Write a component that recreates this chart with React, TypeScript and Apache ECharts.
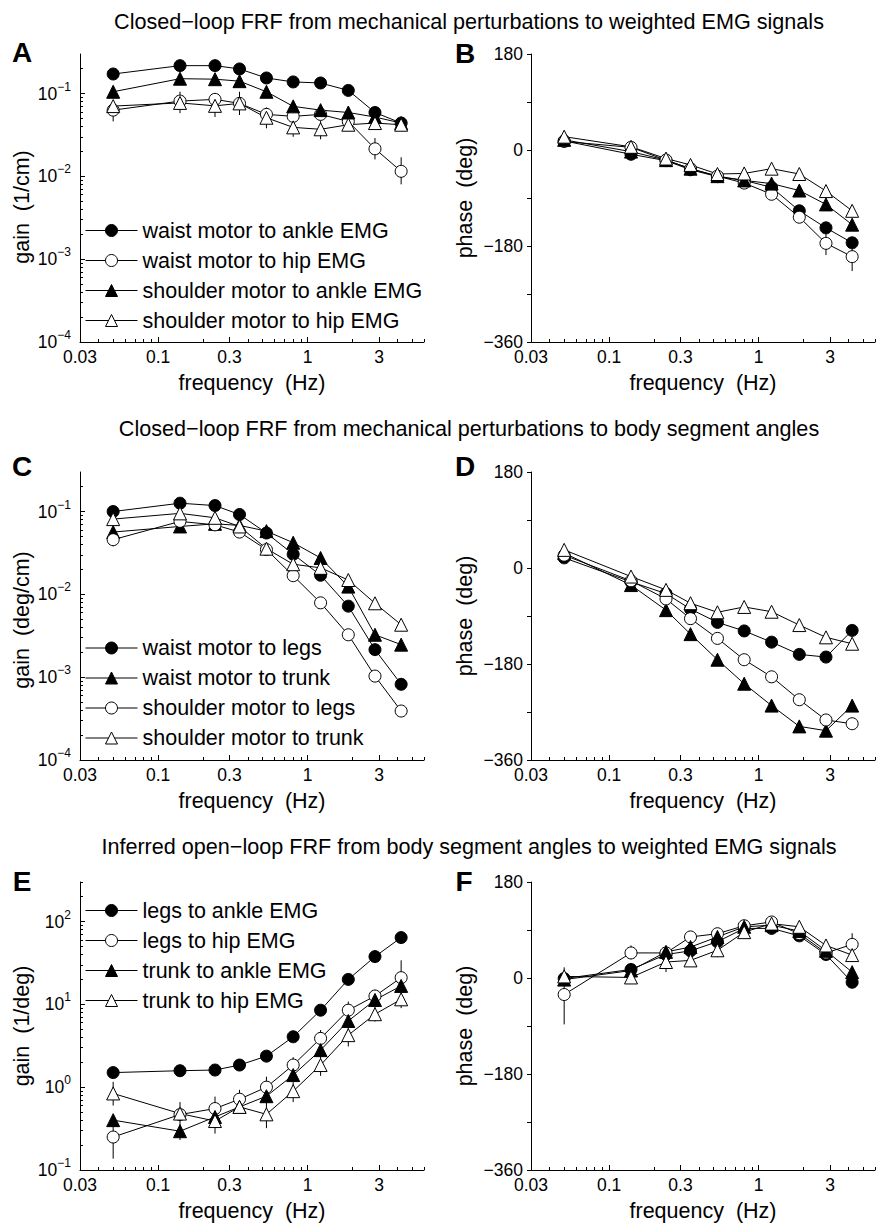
import React, { useEffect, useRef } from "react";
import * as echarts from "echarts";

// ---------------- data ----------------
const freq = [0.05, 0.14, 0.24, 0.35, 0.53, 0.8, 1.22, 1.87, 2.82, 4.22];

const xTickLabels = [0.03, 0.1, 0.3, 1, 3];
const xMinorTicks = [0.04, 0.05, 0.06, 0.07, 0.08, 0.09, 0.2, 0.4, 0.5, 0.6, 0.7, 0.8, 0.9, 2, 4, 5, 6];
const xRange = [0.03, 6];
const phaseRange = [-360, 180];

// Panel A: gain (1/cm)
const gainA_waistAnkle = [0.172, 0.217, 0.217, 0.198, 0.154, 0.138, 0.134, 0.109, 0.059, 0.044];
const gainA_waistHip = [0.063, 0.081, 0.085, 0.076, 0.056, 0.053, 0.056, 0.046, 0.0215, 0.0115];
const gainA_shoulderAnkle = [0.105, 0.151, 0.149, 0.141, 0.105, 0.07, 0.063, 0.059, 0.052, 0.044];
const gainA_shoulderHip = [0.0705, 0.077, 0.071, 0.076, 0.051, 0.039, 0.037, 0.042, 0.044, 0.042];
const errA_waistHip = [[0.046, 0.08], null, null, null, null, null, null, null, [0.016, 0.029], [0.008, 0.017]];
const errA_shoulderHip = [null, [0.058, 0.105], [0.052, 0.1], [0.055, 0.105], [0.038, 0.068], [0.03, 0.05], [0.028, 0.047], null, null, null];

// Panel B: phase (deg)
const phaseB_waistAnkle = [17, -8, -20, -37, -50, -57, -70, -114, -146, -174];
const phaseB_waistHip = [16, 5, -19, -35, -49, -62, -83, -126, -175, -200];
const phaseB_shoulderAnkle = [19, -3, -19, -35, -49, -57, -63, -76, -102, -140];
const phaseB_shoulderHip = [25, 6, -16, -28, -45, -44, -35, -45, -77, -114];
const errB_waistHip = [null, null, null, null, null, null, null, [-137, -115], [-197, -155], [-227, -175]];

// Panel C: gain (deg/cm)
const gainC_waistLegs = [0.1, 0.126, 0.118, 0.092, 0.055, 0.0305, 0.017, 0.0072, 0.00215, 0.00082];
const gainC_waistTrunk = [0.0565, 0.066, 0.071, 0.068, 0.058, 0.042, 0.0275, 0.0124, 0.00325, 0.00247];
const gainC_shoulderLegs = [0.0457, 0.076, 0.069, 0.0565, 0.0347, 0.0168, 0.0079, 0.00325, 0.00103, 0.00039];
const gainC_shoulderTrunk = [0.081, 0.095, 0.084, 0.066, 0.0356, 0.0231, 0.0209, 0.0149, 0.0078, 0.0043];
const errC_shoulderLegs = [[0.038, 0.053], null, null, null, null, null, null, null, null, null];

// Panel D: phase (deg)
const phaseD_waistLegs = [19, -26, -48, -77, -102, -118, -139, -162, -167, -117];
const phaseD_waistTrunk = [28, -32, -79, -124, -172, -217, -258, -297, -305, -258];
const phaseD_shoulderLegs = [24, -24, -58, -95, -132, -172, -204, -247, -285, -292];
const phaseD_shoulderTrunk = [34, -16, -41, -66, -83, -73, -82, -107, -130, -142];

// Panel E: gain (1/deg)
const gainE_legsAnkle = [1.5, 1.58, 1.61, 1.85, 2.37, 4.06, 8.5, 20, 37.7, 64];
const gainE_legsHip = [0.25, 0.467, 0.552, 0.716, 1.0, 1.85, 3.88, 8.5, 12.6, 21];
const gainE_trunkAnkle = [0.4, 0.294, 0.437, 0.578, 0.778, 1.4, 2.8, 6.3, 11.3, 16.7];
const gainE_trunkHip = [0.84, 0.48, 0.39, 0.578, 0.47, 0.895, 1.85, 4.25, 7.6, 11.5];
const errE_legsHip = [[0.137, 0.45], null, [0.45, 0.77], [0.55, 0.93], [0.75, 1.34], [1.5, 2.3], [3.0, 4.9], [6.8, 10.8], [10.5, 15], [14, 34]];
const errE_trunkAnkle = [null, [0.23, 0.35], null, null, null, null, null, null, null, null];
const errE_trunkHip = [[0.6, 1.16], [0.34, 0.66], [0.275, 0.5], null, [0.32, 0.65], [0.66, 1.15], [1.37, 2.4], [3.1, 5.5], [6.2, 9.5], [9, 14]];

// Panel F: phase (deg)
const phaseF_legsAnkle = [-1, 16, 44, 51, 68, 93, 93, 79, 44, -8];
const phaseF_legsHip = [-31, 47, 47, 77, 83, 98, 105, 83, 47, 63];
const phaseF_trunkAnkle = [-3, 14, 49, 58, 77, 96, 99, 88, 51, 11];
const phaseF_trunkHip = [3, 1, 30, 33, 52, 86, 102, 96, 61, 43];
const errF_legsHip = [[-87, 20], [35, 61], null, null, null, null, null, null, null, [45, 84]];
const errF_trunkHip = [null, null, [11, 45], null, [39, 65], null, null, null, null, null];

const gainRangeAC = [1e-4, 0.3];
const gainRangeE = [0.1, 300];

const titles = [
  "Closed\u2212loop FRF from mechanical perturbations to weighted EMG signals",
  "Closed\u2212loop FRF from mechanical perturbations to body segment angles",
  "Inferred open\u2212loop FRF from body segment angles to weighted EMG signals",
];

// ---------------- layout / style ----------------
const FONT = "'Liberation Sans', Arial, Helvetica, sans-serif";
const W = 344;
const H = 288;
const L = (v: number) => Math.log10(v);

type Spec = { name: string; vals: number[]; sym: string; filled: boolean; err?: any[] };

const namesA = ["waist motor to ankle EMG", "waist motor to hip EMG", "shoulder motor to ankle EMG", "shoulder motor to hip EMG"];
const namesC = ["waist motor to legs", "waist motor to trunk", "shoulder motor to legs", "shoulder motor to trunk"];
const namesE = ["legs to ankle EMG", "legs to hip EMG", "trunk to ankle EMG", "trunk to hip EMG"];

const specsA: Spec[] = [
  { name: namesA[0], vals: gainA_waistAnkle, sym: "circle", filled: true },
  { name: namesA[1], vals: gainA_waistHip, sym: "circle", filled: false, err: errA_waistHip },
  { name: namesA[2], vals: gainA_shoulderAnkle, sym: "triangle", filled: true },
  { name: namesA[3], vals: gainA_shoulderHip, sym: "triangle", filled: false, err: errA_shoulderHip },
];
const specsB: Spec[] = [
  { name: namesA[0], vals: phaseB_waistAnkle, sym: "circle", filled: true },
  { name: namesA[1], vals: phaseB_waistHip, sym: "circle", filled: false, err: errB_waistHip },
  { name: namesA[2], vals: phaseB_shoulderAnkle, sym: "triangle", filled: true },
  { name: namesA[3], vals: phaseB_shoulderHip, sym: "triangle", filled: false },
];
const specsC: Spec[] = [
  { name: namesC[0], vals: gainC_waistLegs, sym: "circle", filled: true },
  { name: namesC[1], vals: gainC_waistTrunk, sym: "triangle", filled: true },
  { name: namesC[2], vals: gainC_shoulderLegs, sym: "circle", filled: false, err: errC_shoulderLegs },
  { name: namesC[3], vals: gainC_shoulderTrunk, sym: "triangle", filled: false },
];
const specsD: Spec[] = [
  { name: namesC[0], vals: phaseD_waistLegs, sym: "circle", filled: true },
  { name: namesC[1], vals: phaseD_waistTrunk, sym: "triangle", filled: true },
  { name: namesC[2], vals: phaseD_shoulderLegs, sym: "circle", filled: false },
  { name: namesC[3], vals: phaseD_shoulderTrunk, sym: "triangle", filled: false },
];
const specsE: Spec[] = [
  { name: namesE[0], vals: gainE_legsAnkle, sym: "circle", filled: true },
  { name: namesE[1], vals: gainE_legsHip, sym: "circle", filled: false, err: errE_legsHip },
  { name: namesE[2], vals: gainE_trunkAnkle, sym: "triangle", filled: true, err: errE_trunkAnkle },
  { name: namesE[3], vals: gainE_trunkHip, sym: "triangle", filled: false, err: errE_trunkHip },
];
const specsF: Spec[] = [
  { name: namesE[0], vals: phaseF_legsAnkle, sym: "circle", filled: true },
  { name: namesE[1], vals: phaseF_legsHip, sym: "circle", filled: false, err: errF_legsHip },
  { name: namesE[2], vals: phaseF_trunkAnkle, sym: "triangle", filled: true },
  { name: namesE[3], vals: phaseF_trunkHip, sym: "triangle", filled: false, err: errF_trunkHip },
];

const panels = [
  { left: 80, top: 54, kind: "gain", range: gainRangeAC, yName: "gain  (1/cm)", namePad: [0, 18, 0, 0], specs: specsA, letter: "A", lx: 22, ly: 52, legendTop: 214.5, legendNames: namesA },
  { left: 531, top: 54, kind: "phase", range: phaseRange, yName: "phase  (deg)", specs: specsB, letter: "B", lx: 465, ly: 53 },
  { left: 80, top: 472, kind: "gain", range: gainRangeAC, yName: "gain  (deg/cm)", namePad: [0, 8, 0, 0], specs: specsC, letter: "C", lx: 22, ly: 466, legendTop: 632, legendNames: namesC },
  { left: 531, top: 472, kind: "phase", range: phaseRange, yName: "phase  (deg)", specs: specsD, letter: "D", lx: 465, ly: 466 },
  { left: 80, top: 882, kind: "gain", range: gainRangeE, yName: "gain  (1/deg)", specs: specsE, letter: "E", lx: 22, ly: 881, legendTop: 894.5, legendNames: namesE },
  { left: 531, top: 882, kind: "phase", range: phaseRange, yName: "phase  (deg)", specs: specsF, letter: "F", lx: 464, ly: 881 },
];
const titleY = [21, 428, 846];

const axisLineStyle = { color: "#000", width: 1 };
const nameStyle = { fontSize: 21.5, fontFamily: FONT, color: "#000" };

function fmtX(v: number) {
  let best = xTickLabels[0];
  for (const t of xTickLabels) if (Math.abs(L(t) - v) < Math.abs(L(best) - v)) best = t;
  return String(best);
}
function fmtPow(v: number) {
  const e = Math.round(v);
  return `{b|10}{s|${e < 0 ? "\u2212" : ""}${Math.abs(e)}}`;
}
function fmtPhase(v: number) {
  if (Math.round(v) % 180 !== 0) return "";
  return v < 0 ? "\u2212" + Math.abs(v) : String(v);
}

function buildOption() {
  const grid: any[] = [];
  const xAxis: any[] = [];
  const yAxis: any[] = [];
  const series: any[] = [];
  const legend: any[] = [];
  const graphic: any[] = [];

  panels.forEach((p: any, gi) => {
    grid.push({ left: p.left, top: p.top, width: W, height: H });
    const xi = xAxis.length;
    xAxis.push({
      type: "value", gridIndex: gi, position: "bottom", min: L(xRange[0]), max: L(xRange[1]),
      axisLine: { onZero: false, lineStyle: axisLineStyle },
      axisTick: { inside: true, length: 5, customValues: xTickLabels.map(L), lineStyle: axisLineStyle },
      axisLabel: { customValues: xTickLabels.map(L), formatter: fmtX, fontSize: 17.5, fontFamily: FONT, color: "#000", margin: 6 },
      splitLine: { show: false },
      name: "frequency  (Hz)", nameLocation: "middle", nameGap: 30, nameTextStyle: nameStyle,
    });
    xAxis.push({
      type: "value", gridIndex: gi, position: "bottom", min: L(xRange[0]), max: L(xRange[1]),
      axisLine: { show: false, onZero: false },
      axisTick: { inside: true, length: 3, customValues: xMinorTicks.map(L), lineStyle: axisLineStyle },
      axisLabel: { show: false }, splitLine: { show: false },
    });
    const yi = yAxis.length;
    const nts = p.namePad ? { ...nameStyle, padding: p.namePad } : nameStyle;
    if (p.kind === "gain") {
      const lo = Math.round(L(p.range[0]));
      const hiD = Math.floor(L(p.range[1]));
      const decades: number[] = [];
      const minors: number[] = [];
      for (let d = lo; d <= hiD; d++) {
        decades.push(d);
        for (let k = 2; k <= 9; k++) {
          const v = k * Math.pow(10, d);
          if (v <= p.range[1] * 1.0001) minors.push(L(v));
        }
      }
      yAxis.push({
        type: "value", gridIndex: gi, position: "left", min: L(p.range[0]), max: L(p.range[1]),
        axisLine: { onZero: false, lineStyle: axisLineStyle },
        axisTick: { inside: true, length: 5, customValues: decades, lineStyle: axisLineStyle },
        axisLabel: {
          customValues: decades, formatter: fmtPow, margin: 9, color: "#000",
          rich: {
            b: { fontSize: 17.5, fontFamily: FONT, color: "#000" },
            s: { fontSize: 12, fontFamily: FONT, color: "#000", padding: [0, 0, 14, 0] },
          },
        },
        splitLine: { show: false },
        name: p.yName, nameLocation: "middle", nameGap: 47, nameTextStyle: nts,
      });
      yAxis.push({
        type: "value", gridIndex: gi, position: "left", min: L(p.range[0]), max: L(p.range[1]),
        axisLine: { show: false, onZero: false },
        axisTick: { inside: true, length: 3, customValues: minors, lineStyle: axisLineStyle },
        axisLabel: { show: false }, splitLine: { show: false },
      });
    } else {
      yAxis.push({
        type: "value", gridIndex: gi, position: "left", min: p.range[0], max: p.range[1], interval: 90,
        axisLine: { onZero: false, lineStyle: axisLineStyle },
        axisTick: { inside: false, length: 4, lineStyle: axisLineStyle },
        axisLabel: { formatter: fmtPhase, fontSize: 17.5, fontFamily: FONT, color: "#000", margin: 8 },
        splitLine: { show: false },
        name: p.yName, nameLocation: "middle", nameGap: 55, nameTextStyle: nts,
      });
    }
    const ty = (v: number) => (p.kind === "gain" ? L(v) : v);
    p.specs.forEach((s: Spec) => {
      if (s.err) {
        const ed: number[][] = [];
        s.err.forEach((e: any, i: number) => {
          if (e) ed.push([L(freq[i]), ty(e[0]), ty(e[1])]);
        });
        series.push({
          type: "custom", xAxisIndex: xi, yAxisIndex: yi, z: 1, silent: true,
          encode: { x: 0, y: [1, 2] },
          data: ed,
          renderItem: (params: any, api: any) => {
            const a = api.coord([api.value(0), api.value(1)]);
            const b = api.coord([api.value(0), api.value(2)]);
            return { type: "line", shape: { x1: a[0], y1: a[1], x2: b[0], y2: b[1] }, style: { stroke: "#000", lineWidth: 1 } };
          },
        });
      }
    });
    p.specs.forEach((s: Spec) => {
      series.push({
        type: "line", name: s.name, xAxisIndex: xi, yAxisIndex: yi, z: 3,
        data: freq.map((f, i) => [L(f), ty(s.vals[i])]),
        symbol: s.sym, symbolSize: s.sym === "circle" ? 12 : 13,
        lineStyle: { color: "#000", width: 1 },
        itemStyle: { color: s.filled ? "#000" : "#fff", borderColor: "#000", borderWidth: 1 },
        emphasis: { disabled: true },
      });
    });
    if (p.legendNames) {
      legend.push({
        orient: "vertical", left: 80, top: p.legendTop, itemWidth: 52, itemHeight: 15, itemGap: 8,
        data: p.legendNames, selectedMode: false,
        textStyle: { fontSize: 21.5, fontFamily: FONT, color: "#000" },
        itemStyle: { borderWidth: 1 }, lineStyle: { width: 1 },
      });
    }
    graphic.push({
      type: "text", x: p.lx, y: p.ly,
      style: { text: p.letter, font: `bold 28px ${FONT}`, fill: "#000", textAlign: "center", textVerticalAlign: "middle" },
    });
  });

  titles.forEach((t, i) => {
    graphic.push({
      type: "text", x: 469, y: titleY[i],
      style: { text: t, font: `21.6px ${FONT}`, fill: "#000", textAlign: "center", textVerticalAlign: "middle" },
    });
  });

  return { animation: false, backgroundColor: "#fff", grid, xAxis, yAxis, series, legend, graphic };
}

export default function App() {
  const ref = useRef<HTMLDivElement>(null);
  useEffect(() => {
    const chart = echarts.init(ref.current!, null, { renderer: "svg" });
    chart.setOption(buildOption() as any);
    return () => chart.dispose();
  }, []);
  return (
    <div
      ref={ref}
      style={{ position: "absolute", left: 0, top: 0, width: 881, height: 1223, background: "#fff" }}
    />
  );
}
